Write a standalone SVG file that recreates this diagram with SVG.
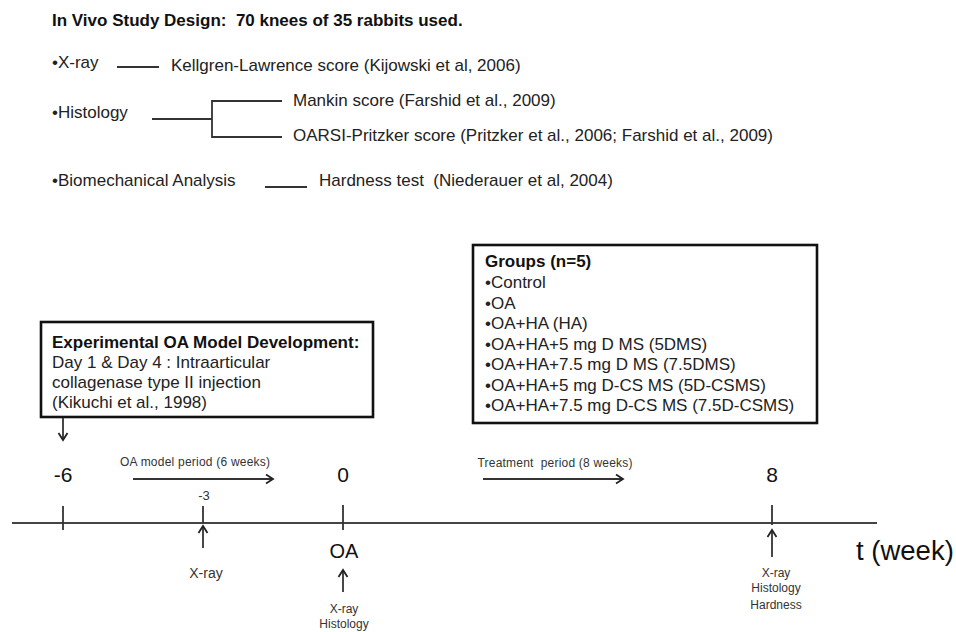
<svg xmlns="http://www.w3.org/2000/svg" width="956" height="632" viewBox="0 0 956 632">
<style>
text{font-family:"Liberation Sans",Arial,sans-serif;fill:#222;white-space:pre}
.t17{font-size:17px}
.b{font-weight:bold;fill:#111}
.sm{font-size:12px;fill:#333}
.tk{font-size:21px;fill:#111}
.ln{stroke:#333;stroke-width:1.8;fill:none}
.box{fill:#fff;stroke:#111;stroke-width:2.6}
.mid{text-anchor:middle}
</style>
<defs>
<marker id="ah" markerUnits="userSpaceOnUse" markerWidth="12" markerHeight="12" refX="9" refY="6" orient="auto">
<path d="M2,1.5 L9,6 L2,10.5" fill="none" stroke="#222" stroke-width="1.8"/>
</marker>
</defs>
<rect width="956" height="632" fill="#fff"/>

<g id="title"><text class="t17 b" x="52" y="26">In Vivo Study Design:  70 knees of 35 rabbits used.</text></g>

<g id="xray-item">
<text class="t17" x="52" y="68">•X-ray</text>
<text class="t17" x="171" y="71">Kellgren-Lawrence score (Kijowski et al, 2006)</text>
</g>
<g id="histology-item">
<text class="t17" x="52" y="118">•Histology</text>
<text class="t17" x="293" y="106">Mankin score (Farshid et al., 2009)</text>
<text class="t17" x="293" y="141">OARSI-Pritzker score (Pritzker et al., 2006; Farshid et al., 2009)</text>
</g>
<g id="biomech-item">
<text class="t17" x="52" y="186">•Biomechanical Analysis</text>
<text class="t17" x="319" y="186">Hardness test  (Niederauer et al, 2004)</text>
</g>

<g id="model-box">
<rect class="box" x="41" y="322" width="332" height="95"/>
<text class="t17 b" x="52" y="348">Experimental OA Model Development:</text>
<text class="t17" x="52" y="368">Day 1 &amp; Day 4 : Intraarticular</text>
<text class="t17" x="52" y="388">collagenase type II injection</text>
<text class="t17" x="52" y="408">(Kikuchi et al., 1998)</text>
</g>

<g id="groups-box">
<rect class="box" x="473" y="245" width="344" height="178"/>
<text class="t17 b" x="485" y="267">Groups (n=5)</text>
<text class="t17" x="485" y="288">•Control</text>
<text class="t17" x="485" y="308.5">•OA</text>
<text class="t17" x="485" y="329">•OA+HA (HA)</text>
<text class="t17" x="485" y="350">•OA+HA+5 mg D MS (5DMS)</text>
<text class="t17" x="485" y="370">•OA+HA+7.5 mg D MS (7.5DMS)</text>
<text class="t17" x="485" y="391">•OA+HA+5 mg D-CS MS (5D-CSMS)</text>
<text class="t17" x="485" y="411">•OA+HA+7.5 mg D-CS MS (7.5D-CSMS)</text>
</g>

<g id="tick-labels">
<text class="tk mid" x="63" y="482">-6</text>
<text class="tk mid" x="343" y="482">0</text>
<text class="tk mid" x="772" y="482">8</text>
<text class="mid" x="204" y="500" style="font-size:13px;fill:#333">-3</text>
<text class="sm mid" x="195" y="466" textLength="150">OA model period (6 weeks)</text>
<text class="sm mid" x="555" y="467" textLength="155">Treatment  period (8 weeks)</text>
</g>

<g id="event-labels">
<text class="mid" x="344" y="558" style="font-size:20px;fill:#111">OA</text>
<text class="mid" x="206" y="578" style="font-size:14px;fill:#333">X-ray</text>
<text class="sm mid" x="344" y="613">X-ray</text>
<text class="sm mid" x="344" y="628">Histology</text>
<text class="sm mid" x="776" y="577">X-ray</text>
<text class="sm mid" x="776" y="592">Histology</text>
<text class="sm mid" x="776" y="609">Hardness</text>
<text x="856" y="560" style="font-size:27.5px;fill:#111">t (week)</text>
</g>

<g id="connectors">
<line class="ln" x1="117" y1="67" x2="159" y2="67"/>
<polyline class="ln" points="152,119 212,119"/>
<polyline class="ln" points="282,101 212,101 212,137 282,137"/>
<line class="ln" x1="265" y1="187" x2="307" y2="187"/>
<line class="ln" x1="63" y1="418" x2="63" y2="440" marker-end="url(#ah)"/>
<line class="ln" x1="133" y1="479" x2="273" y2="479" marker-end="url(#ah)"/>
<line class="ln" x1="483" y1="479" x2="623" y2="479" marker-end="url(#ah)"/>
<line x1="12" y1="523" x2="877" y2="523" stroke="#444" stroke-width="2"/>
<line class="ln" x1="63" y1="506" x2="63" y2="530"/>
<line class="ln" x1="203" y1="506" x2="203" y2="523"/>
<line class="ln" x1="343" y1="505" x2="343" y2="530"/>
<line class="ln" x1="772" y1="505" x2="772" y2="525"/>
<line class="ln" x1="203" y1="548" x2="203" y2="526" marker-end="url(#ah)"/>
<line class="ln" x1="343" y1="592" x2="343" y2="570" marker-end="url(#ah)"/>
<line class="ln" x1="772" y1="557" x2="772" y2="530" marker-end="url(#ah)"/>
</g>
</svg>
